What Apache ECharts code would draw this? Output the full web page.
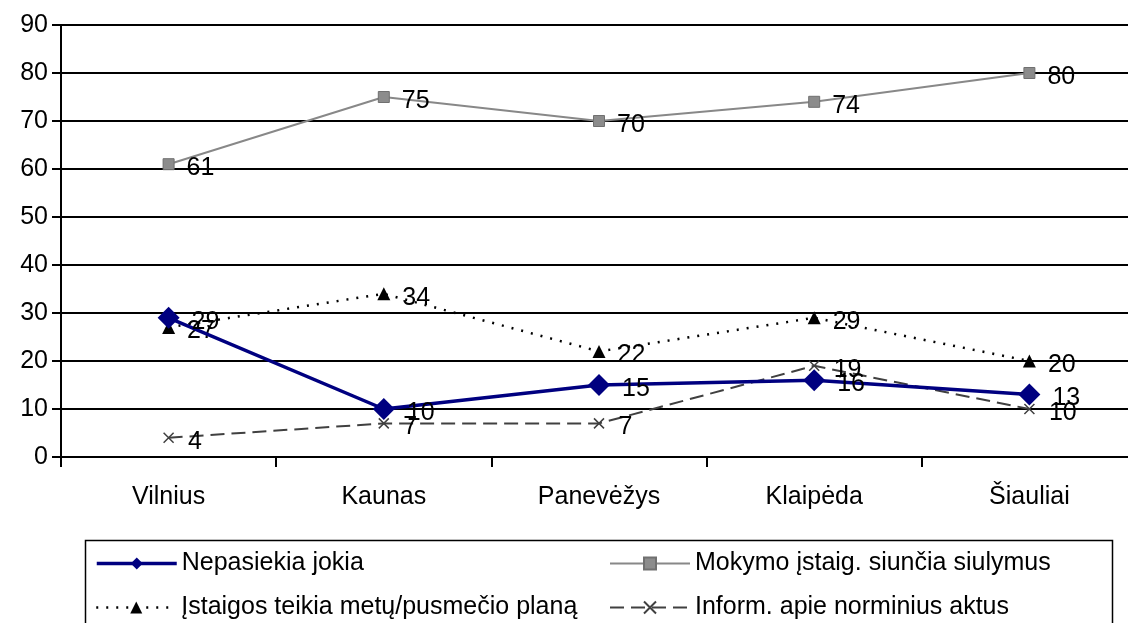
<!DOCTYPE html>
<html><head><meta charset="utf-8">
<script src="https://cdn.jsdelivr.net/npm/echarts@6/dist/echarts.min.js"></script>
<style>html,body{margin:0;padding:0;background:#fff;overflow:hidden}#c{width:1140px;height:623px}</style>
</head><body><div id="c"></div>
<script>
const categories = ['Vilnius', 'Kaunas', 'Panevėžys', 'Klaipėda', 'Šiauliai'];
const seriesNames = ['Nepasiekia jokia', 'Mokymo įstaig. siunčia siulymus', 'Įstaigos teikia metų/pusmečio planą', 'Inform. apie norminius aktus'];
const nepasiekia = [29, 10, 15, 16, 13];
const mokymo = [61, 75, 70, 74, 80];
const istaigos = [27, 34, 22, 29, 20];
const inform = [4, 7, 7, 19, 10];
const yTicks = {min: 0, max: 90, interval: 10};

const FONT = '"Liberation Sans", Arial, sans-serif';
const FS = 25;
const lbl = {show: true, position: 'right', distance: 12, color: '#000', fontSize: FS, fontFamily: FONT, offset: [0, 4]};
function leg(name, left, top, lw) {
  return {left: left, top: top, padding: 0, itemWidth: 80, itemHeight: 15, data: [name],
    lineStyle: {width: lw},
    textStyle: {fontSize: FS, color: '#000', fontFamily: FONT}};
}
const chart = echarts.init(document.getElementById('c'));
chart.setOption({
  animation: false,
  textStyle: {fontFamily: FONT},
  grid: {left: 61, top: 25, width: 1076, height: 432},
  xAxis: {
    type: 'category', data: categories, boundaryGap: true,
    axisLine: {lineStyle: {color: '#000', width: 2}},
    axisTick: {show: true, length: 10, lineStyle: {color: '#000', width: 2}},
    axisLabel: {color: '#000', fontSize: FS, fontFamily: FONT, margin: 28}
  },
  yAxis: {
    type: 'value', min: yTicks.min, max: yTicks.max, interval: yTicks.interval,
    axisLine: {show: true, lineStyle: {color: '#000', width: 2}},
    axisTick: {show: true, length: 9, lineStyle: {color: '#000', width: 2}},
    axisLabel: {color: '#000', fontSize: FS, fontFamily: FONT, margin: 13},
    splitLine: {lineStyle: {color: '#000', width: 2}}
  },
  legend: [
    leg(seriesNames[0], 95, 551, 3.5),
    leg(seriesNames[2], 95, 595, 2.5),
    leg(seriesNames[1], 609, 551, 2),
    leg(seriesNames[3], 609, 595, 2)
  ],
  graphic: [{type: 'rect', left: 83, top: 538, shape: {width: 1027, height: 100},
    style: {fill: 'none', stroke: '#000', lineWidth: 1.5}, silent: true}],
  series: [
    {name: seriesNames[1], type: 'line', data: mokymo, symbol: 'rect', symbolSize: 11,
     lineStyle: {color: '#888', width: 2}, itemStyle: {color: '#8c8c8c', borderColor: '#707070', borderWidth: 1},
     label: lbl, z: 2},
    {name: seriesNames[3], type: 'line', data: inform, symbol: 'path://M0,0L10,10M10,0L0,10', symbolSize: 10,
     lineStyle: {color: '#404040', width: 2, type: [14, 7]}, itemStyle: {color: 'none', borderColor: '#404040', borderWidth: 1.5},
     label: lbl, z: 3},
    {name: seriesNames[2], type: 'line', data: istaigos, symbol: 'triangle', symbolSize: 13,
     lineStyle: {color: '#000', width: 2.5, type: [2, 8]}, itemStyle: {color: '#000'},
     label: lbl, z: 4},
    {name: seriesNames[0], type: 'line', data: nepasiekia, symbol: 'diamond', symbolSize: 22,
     lineStyle: {color: '#000080', width: 3.5}, itemStyle: {color: '#000080'},
     label: lbl, z: 5}
  ]
});
</script></body></html>
